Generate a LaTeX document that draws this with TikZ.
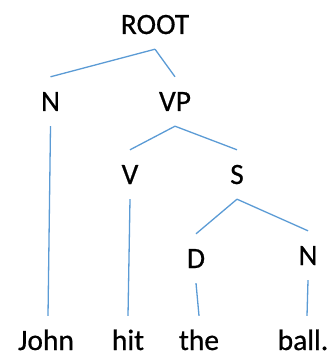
\documentclass[tikz,border=0pt]{standalone}
\usepackage{fontspec}
\setmainfont[FakeBold=0.6,AutoFakeBold=0.6]{Carlito}
\usetikzlibrary{calc}
\definecolor{branch}{HTML}{5B9BD5}
\tikzset{
  lab/.style={anchor=base, inner xsep=0pt, inner ysep=15pt,
    text height=19pt, text depth=0pt,
    font=\fontsize{29.5}{34}\selectfont},
  word/.style={lab, inner ysep=0pt},
  edge/.style={draw=branch, line width=1.3pt}
}
\begin{document}
\begin{tikzpicture}[x=1pt, y=-1pt]
\useasboundingbox (0,0) rectangle (333,352);
% phrase labels
\node[lab] (root) at (155,34) {ROOT};
\node[lab] (n1) at (50.5,111) {N};
\node[lab] (vp) at (175,111) {VP};
\node[lab] (v) at (130,184) {V};
\node[lab] (s) at (237,184) {S};
\node[lab] (d) at (196,268) {D};
\node[lab] (n2) at (308,265) {N};
% words
\node[word] (john) at (46,350) {John};
\node[word] (hit) at (128,350) {hit};
\node[word] (the) at (199,350) {the};
\node[word] (ball) at (303,350) {ball.};
% branches
\draw[edge] (root.south) -- (n1.north);
\draw[edge] (root.south) -- (vp.north);
\draw[edge] (vp.south) -- (v.north);
\draw[edge] (vp.south) -- (s.north);
\draw[edge] (s.south) -- (d.north);
\draw[edge] (s.south) -- (n2.north);
\draw[edge] (n1.south) -- ($(john.north)+(2,-15)$);
\draw[edge] (v.south) -- ($(hit.north)+(0,-15)$);
\draw[edge] (d.south) -- ($(the.north)+(0,-15)$);
\draw[edge] (n2.south) -- ($(ball.north)+(4,-15)$);
\end{tikzpicture}
\end{document}
